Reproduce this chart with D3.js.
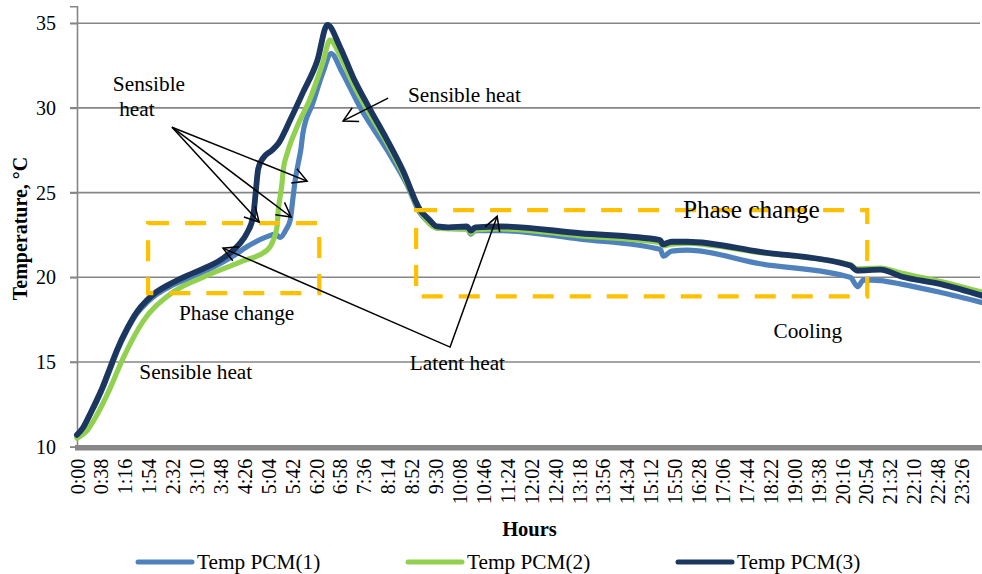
<!DOCTYPE html>
<html><head><meta charset="utf-8">
<script src="https://cdn.jsdelivr.net/npm/d3@7"></script>
<style>
body{margin:0;background:#fff}
svg{display:block}
svg text{font-family:"Liberation Serif","Times New Roman","DejaVu Serif",serif;fill:#000}
</style>
</head><body>
<svg id="chart" width="982" height="574"></svg>
<script>
// ---- data ----
const seriesNames = ["Temp PCM(1)", "Temp PCM(2)", "Temp PCM(3)"];
const seriesColors = ["#4F81BD", "#92D050", "#1B365F"];

// time in minutes since 0:00, temperature in °C
const pcm1Min = [0,10,21,32,41,52,64,80,95,111,127,150,175,200,227,250,270,302,315,323,332,339,343,347,352,356,359,375,391,404,420,449,493,524,545,560,572,620,626,633,673,800,927,932,945,970,1086,1229,1241,1250,1277,1310,1373,1440];
const pcm1Temp = [10.6,11.1,11.9,12.7,13.45,14.5,15.65,16.9,17.85,18.5,19.0,19.5,19.9,20.3,20.8,21.3,21.8,22.4,22.55,22.35,22.8,23.4,24.6,25.8,26.8,27.6,28.5,30.3,32.1,33.2,32.2,30.1,27.5,25.5,23.8,23.2,22.9,22.85,22.55,22.75,22.75,22.25,21.65,21.25,21.55,21.6,20.8,20.0,19.45,19.85,19.8,19.6,19.1,18.5];

const pcm2Min = [0,17,32,52,73,105,148,200,259,302,312,318,320,323,326,328,334,350,370,391,402,418,439,466,493,518,545,572,620,626,633,673,800,927,932,945,970,1086,1229,1240,1277,1310,1373,1440];
const pcm2Temp = [10.5,11.0,11.9,13.4,15.2,17.4,19.0,20.0,20.9,21.6,22.2,23.0,24.0,24.8,25.6,26.4,27.3,28.9,30.5,32.7,34.0,33.1,31.4,29.6,27.9,26.1,23.9,22.9,22.85,22.6,22.8,22.85,22.45,22.05,21.85,21.95,22.0,21.45,20.75,20.5,20.55,20.25,19.75,19.1];

const pcm3Min = [0,10,21,32,41,52,64,80,95,111,127,150,175,200,227,250,259,270,280,284,288,295,310,320,339,359,382,398,418,439,466,493,518,545,560,572,590,620,626,633,673,800,927,931,945,970,1086,1229,1240,1277,1310,1373,1440];
const pcm3Temp = [10.7,11.15,11.95,12.8,13.55,14.6,15.75,17.0,17.95,18.65,19.15,19.65,20.1,20.5,21.0,21.65,22.0,22.6,23.6,25.0,26.4,27.0,27.5,27.9,29.3,30.9,32.8,34.9,33.6,31.8,29.9,28.1,26.3,24.0,23.4,23.0,22.95,23.0,22.75,22.95,23.0,22.6,22.2,21.95,22.1,22.1,21.5,20.7,20.4,20.45,20.05,19.6,18.9];

const tickLabels = ["0:00","0:38","1:16","1:54","2:32","3:10","3:48","4:26","5:04","5:42","6:20","6:58","7:36","8:14","8:52","9:30","10:08","10:46","11:24","12:02","12:40","13:18","13:56","14:34","15:12","15:50","16:28","17:06","17:44","18:22","19:00","19:38","20:16","20:54","21:32","22:10","22:48","23:26"];
const tickStepMin = 38;
const yTicks = [10, 15, 20, 25, 30, 35];

// annotations in data units (minutes, °C)
const boxes = [
  {x0: 113, x1: 385, t0: 19.07, t1: 23.2},
  {x0: 539, x1: 1256, t0: 18.87, t1: 23.97}
];
const labels = [
  {text: "Sensible", m: 57, t: 31.0, size: 21.3},
  {text: "heat", m: 67, t: 29.52, size: 21.3},
  {text: "Sensible heat", m: 526, t: 30.35, size: 21.3},
  {text: "Phase change", m: 162, t: 17.48, size: 21.3},
  {text: "Sensible heat", m: 99, t: 14.0, size: 21.3},
  {text: "Phase change", m: 963, t: 23.5, size: 25.3},
  {text: "Latent heat", m: 529, t: 14.53, size: 21.3},
  {text: "Cooling", m: 1107, t: 16.42, size: 21.3}
];
// arrows: polyline points; head at the listed ends
const arrows = [
  {pts: [[151, 28.86], [289.4, 23.26]], heads: [1]},
  {pts: [[151, 28.86], [340.3, 23.56]], heads: [1]},
  {pts: [[151, 28.86], [365.7, 25.68]], heads: [1]},
  {pts: [[494.5, 30.58], [423, 29.23]], heads: [1]},
  {pts: [[232, 21.72], [593, 15.88], [667.8, 23.6]], heads: [0, 2]}
];

// ---- layout ----
const svg = d3.select("#chart");
const left = 77, right = 983, bottom = 446.7;
const x = d3.scaleLinear().domain([0, 1440]).range([left, right]);
const y = d3.scaleLinear().domain([10, 36]).range([bottom, bottom - 26 * 16.94]);
const plotTop = y(36);
const serif = "Liberation Serif, Times New Roman, serif";

// gridlines
svg.append("g").selectAll("line").data(yTicks.filter(v => v > 10)).join("line")
  .attr("x1", left - 7).attr("x2", right - 3)
  .attr("y1", d => y(d)).attr("y2", d => y(d))
  .attr("stroke", "#868686").attr("stroke-width", 1.6);

// y axis
const yAxis = d3.axisLeft(y).tickValues(yTicks).tickSize(7).tickFormat(d3.format("d")).tickPadding(14);
const ga = svg.append("g").attr("transform", `translate(${left},0)`).call(yAxis)
  .attr("font-family", serif).attr("font-size", 20);
ga.select(".domain").attr("stroke", "#868686").attr("stroke-width", 1.6);
ga.selectAll(".tick line").attr("stroke", "#868686").attr("stroke-width", 1.6);
ga.selectAll(".tick text").attr("fill", "#000");

// x axis (category-like labels)
const xAxis = d3.axisBottom(x)
  .tickValues(tickLabels.map((_, i) => i * tickStepMin))
  .tickFormat((d, i) => tickLabels[i]).tickSize(0).tickPadding(0);
const gx = svg.append("g").attr("transform", `translate(0,${bottom})`).call(xAxis)
  .attr("font-family", serif).attr("font-size", 20);
gx.select(".domain").remove();
gx.selectAll(".tick text")
  .attr("fill", "#000")
  .attr("text-anchor", "end").attr("dy", null)
  .attr("dominant-baseline", "central")
  .attr("transform", "translate(0,12) rotate(-90)")
  .attr("x", 0).attr("y", 0);

// series lines
const seriesData = [
  pcm1Min.map((m, i) => [m, pcm1Temp[i]]),
  pcm2Min.map((m, i) => [m, pcm2Temp[i]]),
  pcm3Min.map((m, i) => [m, pcm3Temp[i]])
];
const line = d3.line().x(d => x(d[0])).y(d => y(d[1])).curve(d3.curveMonotoneX);
svg.append("g").selectAll("path").data(seriesData).join("path")
  .attr("d", line).attr("fill", "none")
  .attr("stroke", (d, i) => seriesColors[i])
  .attr("stroke-width", (d, i) => i === 2 ? 5.8 : 5.2)
  .attr("stroke-linejoin", "round").attr("stroke-linecap", "round");

// bottom axis band
svg.append("line").attr("x1", left - 2).attr("x2", right - 1).attr("y1", bottom + 1).attr("y2", bottom + 1)
  .attr("stroke", "#878787").attr("stroke-width", 5.5);

// dashed boxes
svg.append("g").selectAll("rect").data(boxes).join("rect")
  .attr("x", d => x(d.x0)).attr("y", d => y(d.t1))
  .attr("width", d => x(d.x1) - x(d.x0)).attr("height", d => y(d.t0) - y(d.t1))
  .attr("fill", "none").attr("stroke", "#FFC000").attr("stroke-width", 4.2)
  .attr("stroke-dasharray", "21,16");

// annotation text
svg.append("g").attr("font-family", serif).selectAll("text").data(labels).join("text")
  .attr("x", d => x(d.m)).attr("y", d => y(d.t))
  .attr("font-size", d => d.size).text(d => d.text);

// arrows
const ag = svg.append("g").attr("stroke", "#000").attr("stroke-width", 1.5).attr("fill", "none");
arrows.forEach(a => {
  const p = a.pts.map(q => [x(q[0]), y(q[1])]);
  ag.append("polyline").attr("points", p.map(q => q.join(",")).join(" "));
  a.heads.forEach(h => {
    const tip = p[h];
    const from = h === 0 ? p[1] : p[h - 1];
    const ang = Math.atan2(tip[1] - from[1], tip[0] - from[0]);
    const L = 16, s = 0.5;
    const b1 = [tip[0] - L * Math.cos(ang - s), tip[1] - L * Math.sin(ang - s)];
    const b2 = [tip[0] - L * Math.cos(ang + s), tip[1] - L * Math.sin(ang + s)];
    ag.append("polyline").attr("points", [b1, tip, b2].map(q => q.join(",")).join(" "));
  });
});

// axis titles
svg.append("text").attr("transform", `translate(27,${(plotTop + bottom) / 2 + 2}) rotate(-90)`)
  .attr("text-anchor", "middle").attr("font-weight", "bold").attr("font-size", 20)
  .attr("font-family", serif).text("Temperature, °C");
svg.append("text").attr("x", 529.5).attr("y", 536).attr("text-anchor", "middle")
  .attr("font-family", serif).attr("font-weight", "bold").attr("font-size", 20.5).text("Hours");

// legend
const legendX = [138, 408, 678];
const lg = svg.append("g").attr("font-family", serif).selectAll("g").data(seriesNames).join("g")
  .attr("transform", (d, i) => `translate(${legendX[i]},562)`);
lg.append("line").attr("x1", 0).attr("x2", 54).attr("y1", 0).attr("y2", 0)
  .attr("stroke", (d, i) => seriesColors[i]).attr("stroke-width", 5).attr("stroke-linecap", "round");
lg.append("text").attr("x", 59).attr("y", 7).attr("font-size", 21.3).text(d => d);
</script>
</body></html>
